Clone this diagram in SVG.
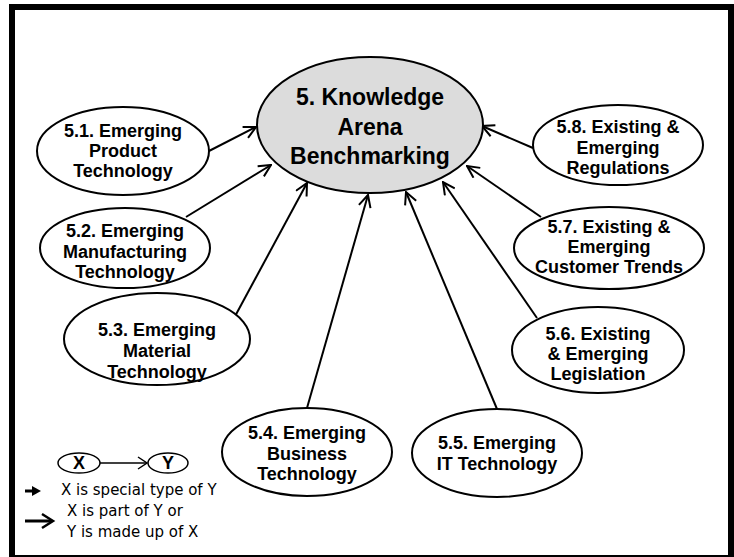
<svg xmlns="http://www.w3.org/2000/svg" width="734" height="557" viewBox="0 0 734 557">
  <style>
    .node { fill: #ffffff; stroke: #000000; stroke-width: 2; }
    .hub { fill: #dcdcdc; stroke: #000000; stroke-width: 2; }
    .lbl { font-family: "Liberation Sans", Arial, sans-serif; font-weight: bold; font-size: 18px; text-anchor: middle; fill: #000000; }
    .hubl { font-family: "Liberation Sans", Arial, sans-serif; font-weight: bold; font-size: 23px; text-anchor: middle; fill: #000000; }
    .edge { stroke: #000000; stroke-width: 2; fill: none; marker-end: url(#open); }
    .key { font-family: "DejaVu Sans", Verdana, sans-serif; font-size: 15px; fill: #000000; }
  </style>
  <defs>
    <marker id="open" viewBox="0 0 14 14" refX="13" refY="7" markerWidth="14" markerHeight="14" markerUnits="userSpaceOnUse" orient="auto">
      <path d="M1,1 L13,7 L1,13" fill="none" stroke="#000000" stroke-width="2"/>
    </marker>
  </defs>

  <rect x="0" y="0" width="734" height="557" fill="#ffffff"/>
  <!-- frame -->
  <rect x="12" y="7" width="719" height="551" fill="none" stroke="#000000" stroke-width="6"/>

  <!-- connectors -->
  <g id="connectors">
    <line class="edge" x1="209" y1="151" x2="256" y2="127"/>
    <line class="edge" x1="186" y1="217" x2="271" y2="165"/>
    <line class="edge" x1="233" y1="320" x2="307" y2="183"/>
    <line class="edge" x1="307" y1="408" x2="368" y2="195"/>
    <line class="edge" x1="497" y1="409" x2="406" y2="192"/>
    <line class="edge" x1="537" y1="318" x2="443" y2="182"/>
    <line class="edge" x1="541" y1="217" x2="467" y2="166"/>
    <line class="edge" x1="533" y1="148" x2="482" y2="126"/>
  </g>

  <g id="n5">
    <ellipse class="hub" cx="370" cy="125" rx="113" ry="68"/>
    <text class="hubl" x="370" y="105">5. Knowledge</text>
    <text class="hubl" x="370" y="135">Arena</text>
    <text class="hubl" x="370" y="164">Benchmarking</text>
  </g>

  <g id="n5-1">
    <ellipse class="node" cx="123" cy="151" rx="86" ry="44"/>
    <text class="lbl" x="123" y="137">5.1. Emerging</text>
    <text class="lbl" x="123" y="157">Product</text>
    <text class="lbl" x="123" y="177">Technology</text>
  </g>

  <g id="n5-2">
    <ellipse class="node" cx="125" cy="248" rx="85" ry="40"/>
    <text class="lbl" x="125" y="237">5.2. Emerging</text>
    <text class="lbl" x="125" y="258">Manufacturing</text>
    <text class="lbl" x="125" y="278">Technology</text>
  </g>

  <g id="n5-3">
    <ellipse class="node" cx="157" cy="339" rx="93" ry="46"/>
    <text class="lbl" x="157" y="336">5.3. Emerging</text>
    <text class="lbl" x="157" y="357">Material</text>
    <text class="lbl" x="157" y="378">Technology</text>
  </g>

  <g id="n5-4">
    <ellipse class="node" cx="307" cy="452" rx="85" ry="44"/>
    <text class="lbl" x="307" y="439">5.4. Emerging</text>
    <text class="lbl" x="307" y="460">Business</text>
    <text class="lbl" x="307" y="480">Technology</text>
  </g>

  <g id="n5-5">
    <ellipse class="node" cx="497" cy="453" rx="85" ry="44"/>
    <text class="lbl" x="497" y="449">5.5. Emerging</text>
    <text class="lbl" x="497" y="470">IT Technology</text>
  </g>

  <g id="n5-6">
    <ellipse class="node" cx="598" cy="350" rx="86" ry="43"/>
    <text class="lbl" x="598" y="340">5.6. Existing</text>
    <text class="lbl" x="598" y="360">&amp; Emerging</text>
    <text class="lbl" x="598" y="380">Legislation</text>
  </g>

  <g id="n5-7">
    <ellipse class="node" cx="609" cy="248" rx="95" ry="41"/>
    <text class="lbl" x="609" y="233">5.7. Existing &amp;</text>
    <text class="lbl" x="609" y="253">Emerging</text>
    <text class="lbl" x="609" y="273">Customer Trends</text>
  </g>

  <g id="n5-8">
    <ellipse class="node" cx="618" cy="145" rx="85" ry="40"/>
    <text class="lbl" x="618" y="133">5.8. Existing &amp;</text>
    <text class="lbl" x="618" y="154">Emerging</text>
    <text class="lbl" x="618" y="174">Regulations</text>
  </g>

  <!-- key -->
  <g id="key">
    <ellipse cx="79" cy="463" rx="21" ry="10" fill="#ffffff" stroke="#000000" stroke-width="1.5"/>
    <text class="lbl" x="79" y="469">X</text>
    <ellipse cx="168" cy="463" rx="20" ry="10" fill="#ffffff" stroke="#000000" stroke-width="1.5"/>
    <text class="lbl" x="168" y="469">Y</text>
    <line x1="100" y1="463" x2="147" y2="463" stroke="#000000" stroke-width="1.5"/>
    <path d="M138,457 L147,463 L138,469" fill="none" stroke="#000000" stroke-width="1.5"/>
    <line x1="25" y1="491" x2="34" y2="491" stroke="#000000" stroke-width="3"/>
    <path d="M32,486 L41,491 L32,496 Z" fill="#000000"/>
    <text class="key" x="61" y="495">X is special type of Y</text>
    <line x1="25" y1="521" x2="51" y2="521" stroke="#000000" stroke-width="3"/>
    <path d="M42,514 L53,521 L42,528" fill="none" stroke="#000000" stroke-width="2.5"/>
    <text class="key" x="67" y="516">X is part of Y or</text>
    <text class="key" x="67" y="537">Y is made up of X</text>
  </g>
</svg>
